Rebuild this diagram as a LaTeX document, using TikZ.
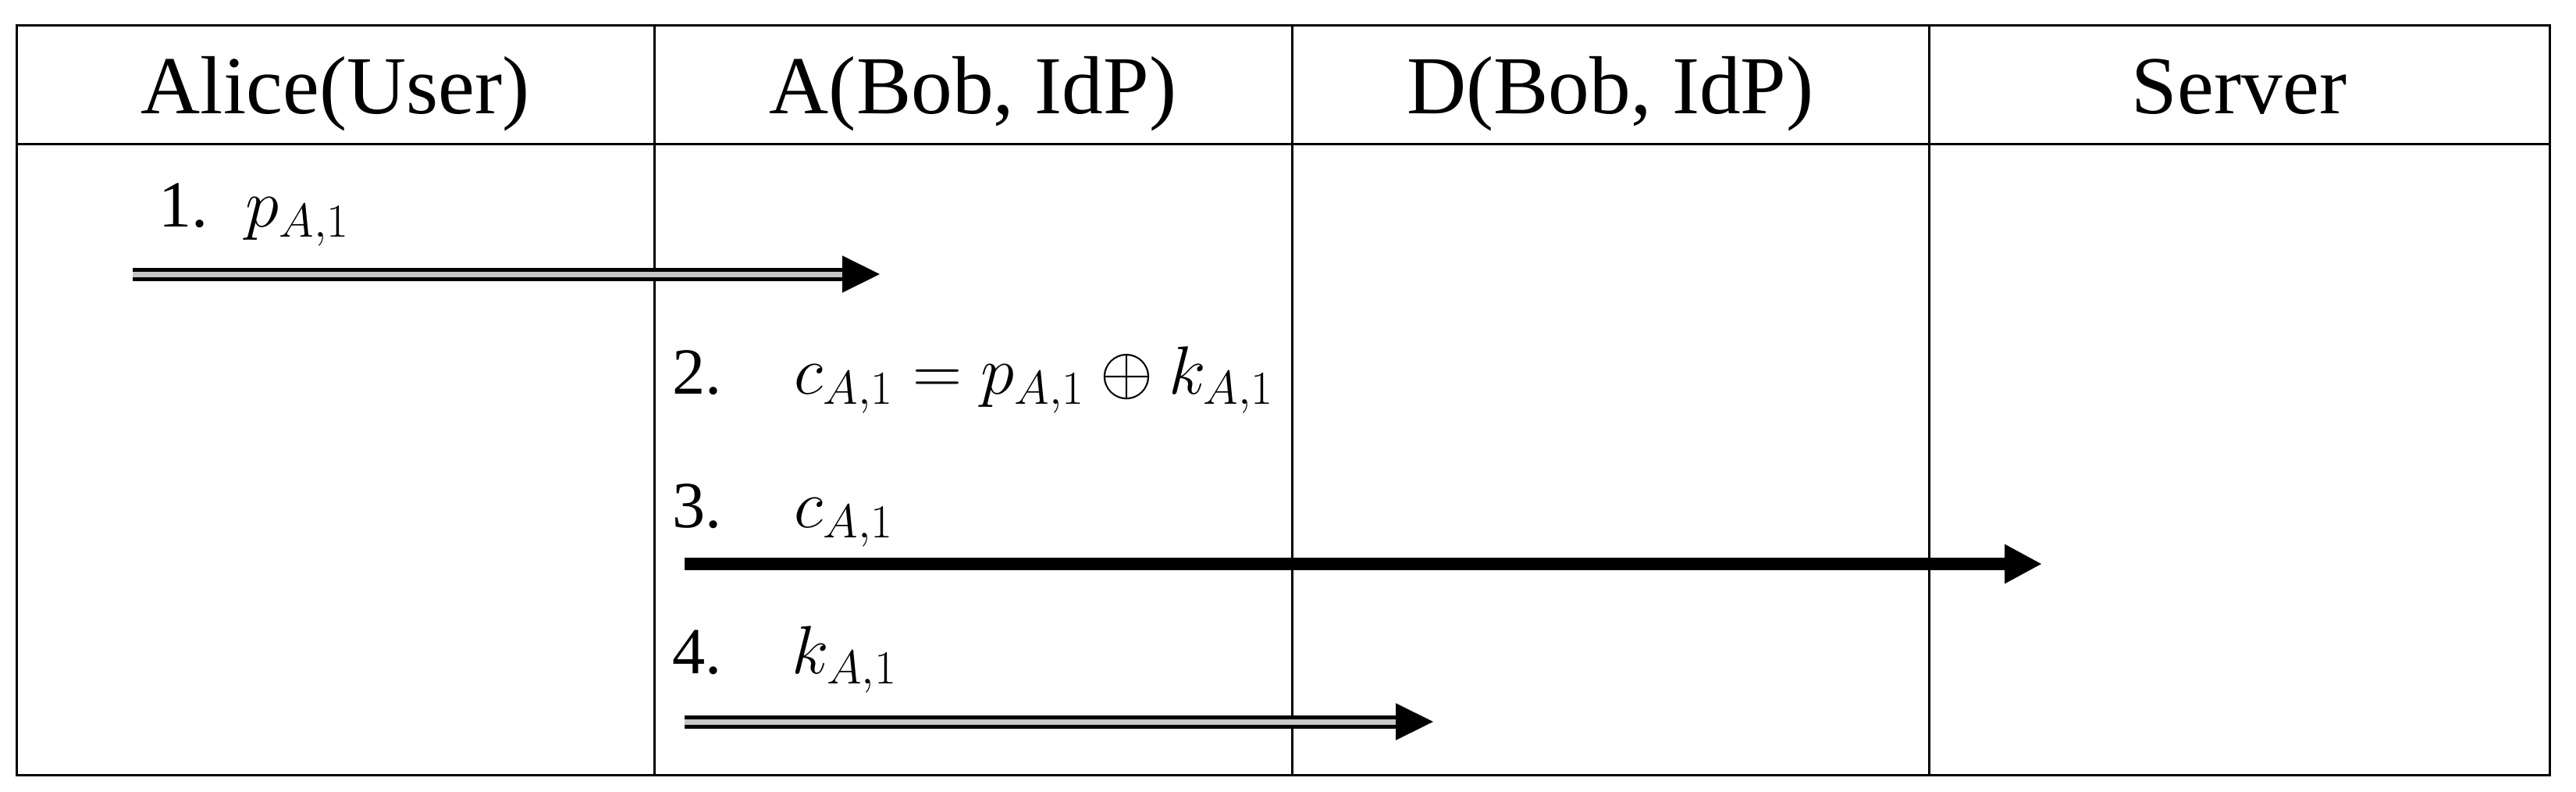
\documentclass[tikz,border=0pt]{standalone}
\usepackage{fontspec}
\setmainfont{Liberation Serif}
\usetikzlibrary{arrows.meta,calc}
\begin{document}
\begin{tikzpicture}[
  grid/.style={line width=0.03cm},
  head/.style={font=\fontsize{30}{36}\selectfont, anchor=base, inner sep=0pt},
  stepnum/.style={font=\fontsize{24}{29}\selectfont, anchor=base west, inner sep=0pt},
  steptxt/.style={font=\fontsize{24}{29}\selectfont, anchor=base west, inner sep=0pt},
  dbl/.style={double=gray!45, double distance=0.07cm, line width=0.05cm},
  thick arrow/.style={line width=0.16cm, -{Triangle[length=0.48cm,width=0.47cm]}},
  tipseg/.style={line width=0.02cm, -{Triangle[length=0.48cm,width=0.47cm]}}
]
\path[use as bounding box] (0,0) rectangle (33,-10.13);
% table frame
\draw[grid] (0.21,-0.32) rectangle (32.66,-9.92);
\draw[grid] (0.21,-1.84) -- (32.66,-1.84);
\draw[grid] (8.38,-0.32) -- (8.38,-9.92);
\draw[grid] (16.55,-0.32) -- (16.55,-9.92);
\draw[grid] (24.71,-0.32) -- (24.71,-9.92);
% headers
\node[head] (h1) at (4.295,-1.45) {Alice(User)};
\node[head] (h2) at (12.465,-1.45) {A(Bob, IdP)};
\node[head] (h3) at (20.63,-1.45) {D(Bob, IdP)};
\node[head] (h4) at (28.685,-1.45) {Server};
% step labels
\node[stepnum] (n1) at (2.03,-2.90) {1.};
\node[steptxt] (m1) at (3.14,-2.90) {$p_{A,1}$};
\node[stepnum] (n2) at (8.61,-5.04) {2.};
\node[steptxt] (m2) at (10.17,-5.04) {$c_{A,1} = p_{A,1} \oplus k_{A,1}$};
\node[stepnum] (n3) at (8.61,-6.75) {3.};
\node[steptxt] (m3) at (10.17,-6.75) {$c_{A,1}$};
\node[stepnum] (n4) at (8.61,-8.62) {4.};
\node[steptxt] (m4) at (10.14,-8.62) {$k_{A,1}$};
% arrow end points
\coordinate (a1s) at (1.70,-3.51);
\coordinate (a1e) at (11.27,-3.51);
\coordinate (a3s) at (8.77,-7.22);
\coordinate (a3e) at (26.16,-7.22);
\coordinate (a4s) at (8.77,-9.24);
\coordinate (a4e) at (18.36,-9.24);
% arrows
\draw[dbl, shorten >=0.44cm] (a1s) -- (a1e);
\draw[tipseg] ($(a1e)+(-0.47,0)$) -- (a1e);
\draw[thick arrow] (a3s) -- (a3e);
\draw[dbl, shorten >=0.44cm] (a4s) -- (a4e);
\draw[tipseg] ($(a4e)+(-0.47,0)$) -- (a4e);
\end{tikzpicture}
\end{document}
